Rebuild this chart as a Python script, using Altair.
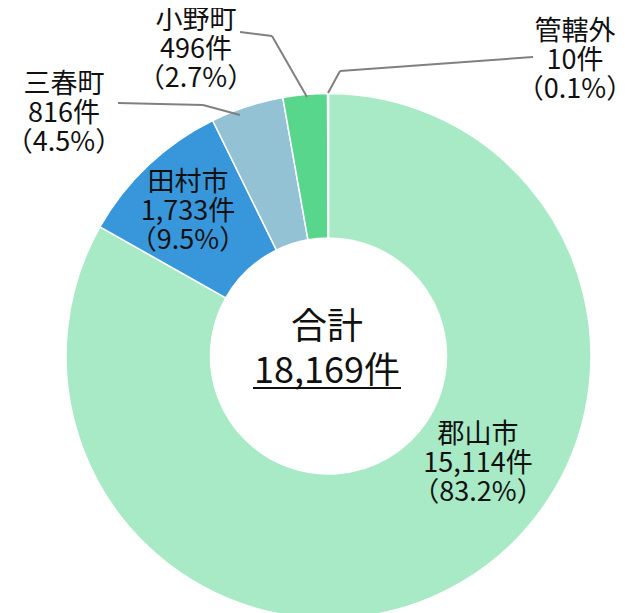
import altair as alt
import pandas as pd

# ---- data ----
names = ["郡山市", "田村市", "三春町", "小野町", "管轄外"]
counts = [15114, 1733, 816, 496, 10]
percents = [83.2, 9.5, 4.5, 2.7, 0.1]
colors = ["#a8e9c6", "#3897db", "#93c2d4", "#57d68c", "#eef6f1"]
total_label = "合計"
total = 18169

FONT = "Noto Sans CJK JP"

# ---- layout (pixels inside the view) ----
W, H = 609, 605
CX, CY = 320.5, 348
R_OUT, R_IN = 262.5, 118
# position of the first line of each label block
label_pos = {
    "郡山市": (470, 427),
    "田村市": (180, 175),
    "三春町": (56, 77),
    "小野町": (188, 13),
    "管轄外": (567, 24),
}
leader_pts = {
    "三春町": [(110, 95), (195, 97), (232, 107)],
    "小野町": [(232, 24), (264, 28), (299, 89)],
    "管轄外": [(320, 85), (332, 63), (525, 49)],
}

df = pd.DataFrame({"name": names, "count": counts, "idx": list(range(len(names)))})

lab = pd.DataFrame({
    "text": [f"{n}\n{c:,}件\n（{p}%）" for n, c, p in zip(names, counts, percents)],
    "x": [label_pos[n][0] for n in names],
    "y": [label_pos[n][1] for n in names],
})

segs = []
for n, pts in leader_pts.items():
    for (x1, y1), (x2, y2) in zip(pts[:-1], pts[1:]):
        segs.append({"x": x1, "y": y1, "x2": x2, "y2": y2})
segdf = pd.DataFrame(segs)

arcs = alt.Chart(df).mark_arc(
    innerRadius=R_IN, outerRadius=R_OUT, stroke="white", strokeWidth=1.5
).encode(
    theta=alt.Theta("count:Q", stack=True),
    color=alt.Color("name:N", scale=alt.Scale(domain=names, range=colors), legend=None),
    order=alt.Order("idx:Q"),
    x=alt.value(CX),
    y=alt.value(CY),
)

leaders = alt.Chart(segdf).mark_rule(color="#808080", strokeWidth=2).encode(
    x=alt.X("x:Q", scale=None, axis=None),
    y=alt.Y("y:Q", scale=None, axis=None),
    x2="x2:Q",
    y2="y2:Q",
)

labels = alt.Chart(lab).mark_text(
    font=FONT, fontSize=27, lineBreak="\n", lineHeight=29,
    align="center", baseline="middle", color="#111111"
).encode(
    x=alt.X("x:Q", scale=None, axis=None),
    y=alt.Y("y:Q", scale=None, axis=None),
    text="text:N",
)

center_df = pd.DataFrame({"text": [total_label, f"{total:,}件"], "y": [320, 364]})
center = alt.Chart(center_df).mark_text(
    font=FONT, fontSize=36, align="center", baseline="middle", color="#111111"
).encode(
    x=alt.value(CX - 1.5),
    y=alt.Y("y:Q", scale=None, axis=None),
    text="text:N",
)

underline = alt.Chart(pd.DataFrame({"t": [total]})).mark_rule(
    color="#111111", strokeWidth=2
).encode(
    x=alt.value(245), x2=alt.value(393), y=alt.value(380)
)

chart = alt.layer(arcs, leaders, labels, center, underline).properties(
    width=W, height=H,
    autosize=alt.AutoSizeParams(type="none"),
    padding=0,
).configure_view(stroke=None)

chart.save("out.html", embed_options={"renderer": "svg", "actions": False})
